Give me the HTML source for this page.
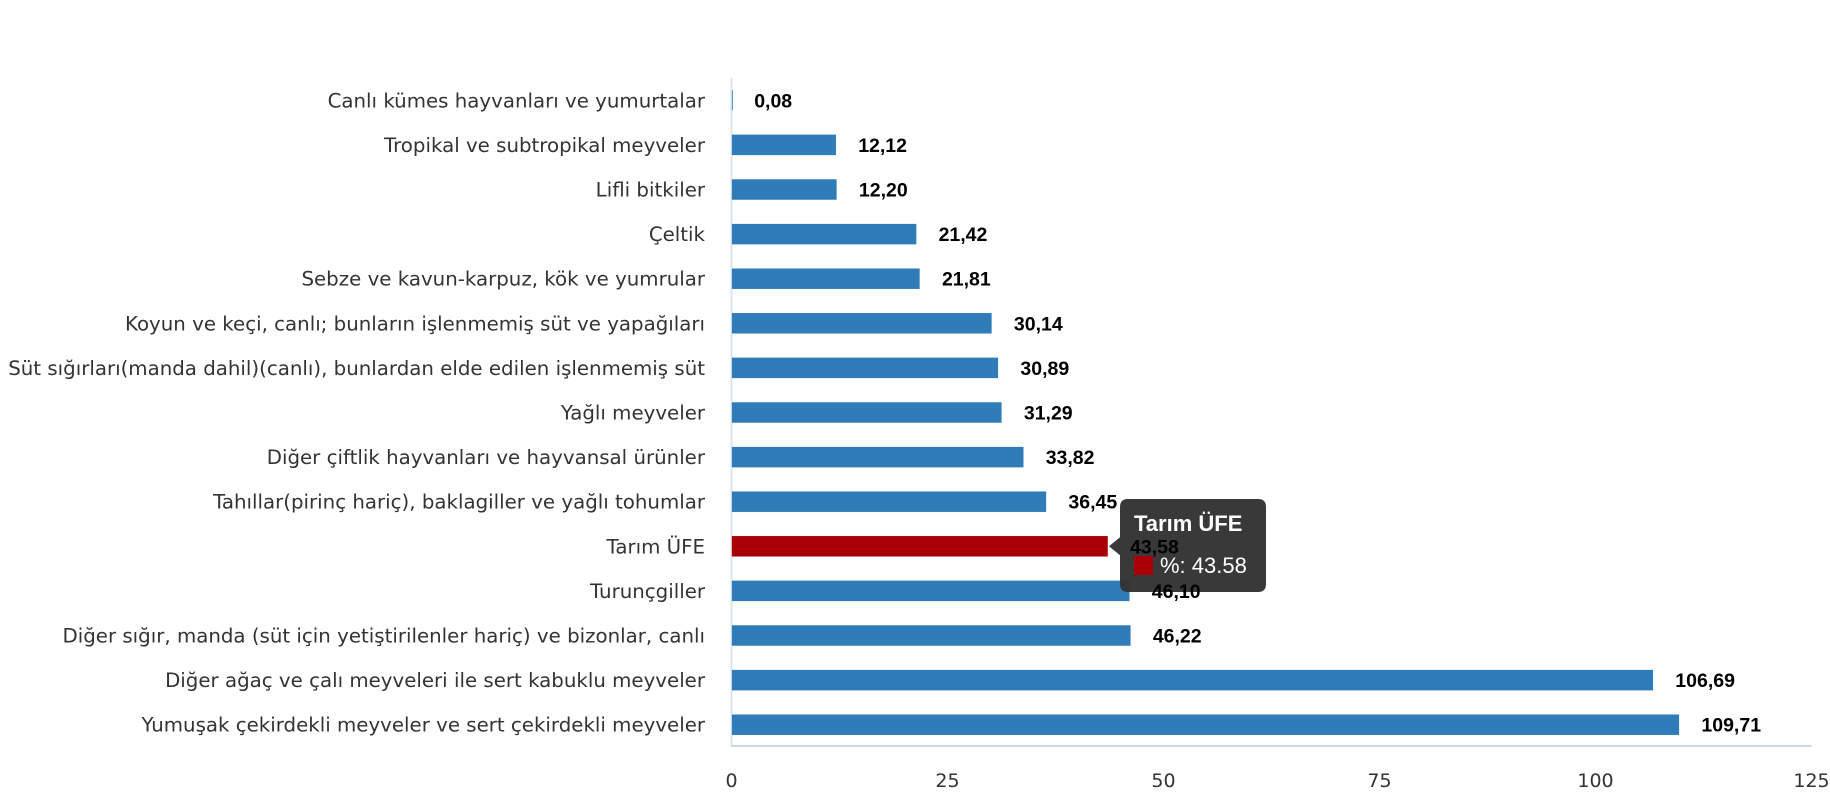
<!DOCTYPE html>
<html><head><meta charset="utf-8"><style>
html,body{margin:0;padding:0;background:#fff;}
svg{display:block;}
</style></head><body>
<svg id="chart" width="1830" height="800" xmlns="http://www.w3.org/2000/svg">
<g id="grid"></g>
<g id="bars"></g>
<g id="tipgroup"></g>
<g id="labels"></g>
<g id="ticks"></g>
</svg>
<script>
const categories = ["Canlı kümes hayvanları ve yumurtalar","Tropikal ve subtropikal meyveler","Lifli bitkiler","Çeltik","Sebze ve kavun-karpuz, kök ve yumrular","Koyun ve keçi, canlı; bunların işlenmemiş süt ve yapağıları","Süt sığırları(manda dahil)(canlı), bunlardan elde edilen işlenmemiş süt","Yağlı meyveler","Diğer çiftlik hayvanları ve hayvansal ürünler","Tahıllar(pirinç hariç), baklagiller ve yağlı tohumlar","Tarım ÜFE","Turunçgiller","Diğer sığır, manda (süt için yetiştirilenler hariç) ve bizonlar, canlı","Diğer ağaç ve çalı meyveleri ile sert kabuklu meyveler","Yumuşak çekirdekli meyveler ve sert çekirdekli meyveler"];
const values = [0.08,12.12,12.20,21.42,21.81,30.14,30.89,31.29,33.82,36.45,43.58,46.10,46.22,106.69,109.71];
const valueLabels = ["0,08","12,12","12,20","21,42","21,81","30,14","30,89","31,29","33,82","36,45","43,58","46,10","46,22","106,69","109,71"];
const ticks = [0,25,50,75,100,125];
const highlight = "Tarım ÜFE";

const NS="http://www.w3.org/2000/svg";
const x0=731.5, x1=1811.5, xMax=125;
const xs=v=>x0+(v/xMax)*(x1-x0);
const rowTop=78, rowH=44.6;
const yc=i=>rowTop+rowH*(i+0.5);
const barH=21;
function mk(tag,attrs,parent,text){const e=document.createElementNS(NS,tag);for(const k in attrs)e.setAttribute(k,attrs[k]);if(text!==undefined)e.textContent=text;parent.appendChild(e);return e;}
const svg=document.getElementById('chart');
const grid=document.getElementById('grid'),bars=document.getElementById('bars'),labels=document.getElementById('labels'),tk=document.getElementById('ticks');

let a=mk('line',{x1:x0,y1:78,x2:x0,y2:747,stroke:'#dde3ec','stroke-width':2},grid);


a=mk('line',{x1:x0,y1:746,x2:x1,y2:746,stroke:'#ccd6eb','stroke-width':2},grid);



ticks.forEach(t=>{
  const e=mk('text',{x:xs(t),y:787,'text-anchor':'middle','font-family':'"DejaVu Sans",sans-serif','font-size':19,fill:'#333'},tk,String(t));
  
  
});

categories.forEach((c,i)=>{
  const y=yc(i);
  const l=mk('text',{x:705,y:y+7,'text-anchor':'end','font-family':'"DejaVu Sans",sans-serif','font-size':19.8,fill:'#333'},labels,c);
  
  
  const w=Math.max(1.5,xs(values[i])-x0);
  const r=mk('rect',{x:x0,y:y-barH/2,width:w,height:barH,fill:c===highlight?'#a80006':'#307cb8',stroke:'#fff','stroke-width':0.5},bars);
  
  
  const v=mk('text',{x:xs(values[i])+22,y:y+7,'font-family':'"Liberation Sans",sans-serif','font-size':19.5,'font-weight':'bold',fill:'#000'},labels,valueLabels[i]);
  
  
});

// tooltip
const hi=categories.indexOf(highlight);
const ty=yc(hi);
const tip=mk('g',{},document.getElementById('tipgroup'));


const tx=1120;
mk('path',{d:`M${tx+8} 499 H1258 Q1266 499 1266 507 V584 Q1266 592 1258 592 H${tx+8} Q${tx} 592 ${tx} 584 V${ty+9} L${tx-11} ${ty} L${tx} ${ty-9} V507 Q${tx} 499 ${tx+8} 499 Z`,fill:'#333','fill-opacity':0.97},tip);
mk('text',{x:1134,y:531,'font-family':'"Liberation Sans",sans-serif','font-size':22,'font-weight':'bold',fill:'#fff'},tip,highlight);
mk('rect',{x:1134,y:556,width:19,height:19,fill:'#a80006'},tip);
mk('text',{x:1160,y:573,'font-family':'"Liberation Sans",sans-serif','font-size':22,fill:'#fff'},tip,'%: '+values[hi].toFixed(2));
</script>
</body></html>
